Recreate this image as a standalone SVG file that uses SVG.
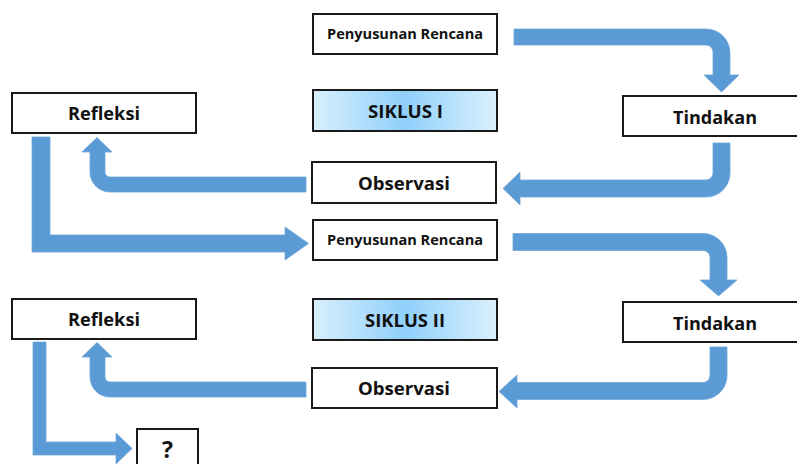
<svg xmlns="http://www.w3.org/2000/svg" width="797" height="464" viewBox="0 0 797 464">
<defs>
<linearGradient id="sik" x1="0" y1="0" x2="1" y2="0">
<stop offset="0" stop-color="#d9effd"/>
<stop offset="0.5" stop-color="#8fd0fa"/>
<stop offset="1" stop-color="#dbf0fd"/>
</linearGradient>
<style>
.box{fill:#fff;stroke:#1a1a1a;stroke-width:2}
.sik{fill:url(#sik);stroke:#1a1a1a;stroke-width:2}
.t{font-family:"Open Sans","Liberation Sans",sans-serif;font-weight:bold;fill:#111;text-anchor:middle}
.big{font-size:18px}
.sm{font-size:13.5px}
.arr{fill:#5b9bd5;stroke:#6fa6d9;stroke-width:0.8}
</style>
</defs>
<rect width="797" height="464" fill="#fff"/>
<g id="connectors">
<path class="arr" d="M514,29 H706 A24,24 0 0 1 730,53 V75 H739 L721.5,92 L704,75 H713 V52 A7,7 0 0 0 706,45 H514 Z"/>
<path class="arr" d="M713,143 H730 V173 A24,24 0 0 1 706,197 H520 V205 L503,188.5 L520,172 V180 H706 A7,7 0 0 0 713,173 Z"/>
<path class="arr" d="M513,233.5 H703 A24,24 0 0 1 727,257.5 V280 H737 L718.5,296 L700,280 H710 V257.5 A7,7 0 0 0 703,250.5 H513 Z"/>
<path class="arr" d="M710,347 H727 V375.5 A24,24 0 0 1 703,399.5 H517 V408 L499,391.5 L517,375 V382.5 H703 A7,7 0 0 0 710,375.5 Z"/>
<path class="arr" d="M306,177 V192 H110 A20,20 0 0 1 90,172 V152 H82 L97,137.5 L112,152 H105 V172 A5,5 0 0 0 110,177 Z"/>
<path class="arr" d="M306,382 V397 H110 A20,20 0 0 1 90,377 V357 H82 L97,342.5 L112,357 H105 V377 A5,5 0 0 0 110,382 Z"/>
<path class="arr" d="M32,137 H50 V235 H285 V227 L308.5,243.5 L285,260 V252 H32 Z"/>
<path class="arr" d="M33,342 H46 V442 H116 V433 L132,448.5 L116,464 V455 H33 Z"/>
</g>
<g id="rencana1"><rect class="box" x="313" y="14" width="184" height="40"/><text class="t sm" x="405" y="39" textLength="156" lengthAdjust="spacingAndGlyphs">Penyusunan Rencana</text></g>
<g id="siklus1"><rect class="sik" x="313" y="90" width="184" height="41"/><text class="t big" x="405.5" y="118" textLength="75" lengthAdjust="spacingAndGlyphs">SIKLUS I</text></g>
<g id="tindakan1"><rect class="box" x="623" y="96" width="184" height="40"/><text class="t big" x="715" y="124" textLength="84" lengthAdjust="spacingAndGlyphs">Tindakan</text></g>
<g id="refleksi1"><rect class="box" x="12" y="93" width="184" height="40"/><text class="t big" x="104" y="120" textLength="72" lengthAdjust="spacingAndGlyphs">Refleksi</text></g>
<g id="observasi1"><rect class="box" x="312" y="162" width="184" height="41"/><text class="t big" x="404" y="190" textLength="92" lengthAdjust="spacingAndGlyphs">Observasi</text></g>
<g id="rencana2"><rect class="box" x="313" y="220" width="184" height="40"/><text class="t sm" x="405" y="245" textLength="156" lengthAdjust="spacingAndGlyphs">Penyusunan Rencana</text></g>
<g id="siklus2"><rect class="sik" x="313" y="299" width="184" height="41"/><text class="t big" x="405" y="327" textLength="80" lengthAdjust="spacingAndGlyphs">SIKLUS II</text></g>
<g id="tindakan2"><rect class="box" x="623" y="302" width="184" height="40"/><text class="t big" x="715" y="330" textLength="84" lengthAdjust="spacingAndGlyphs">Tindakan</text></g>
<g id="refleksi2"><rect class="box" x="12" y="299" width="184" height="40"/><text class="t big" x="104" y="326" textLength="72" lengthAdjust="spacingAndGlyphs">Refleksi</text></g>
<g id="observasi2"><rect class="box" x="312" y="368" width="185" height="40"/><text class="t big" x="404" y="395" textLength="92" lengthAdjust="spacingAndGlyphs">Observasi</text></g>
<g id="tanya"><rect class="box" x="137" y="429" width="61" height="45"/><text class="t" style="font-size:23px" x="167.5" y="458">?</text></g>
</svg>
